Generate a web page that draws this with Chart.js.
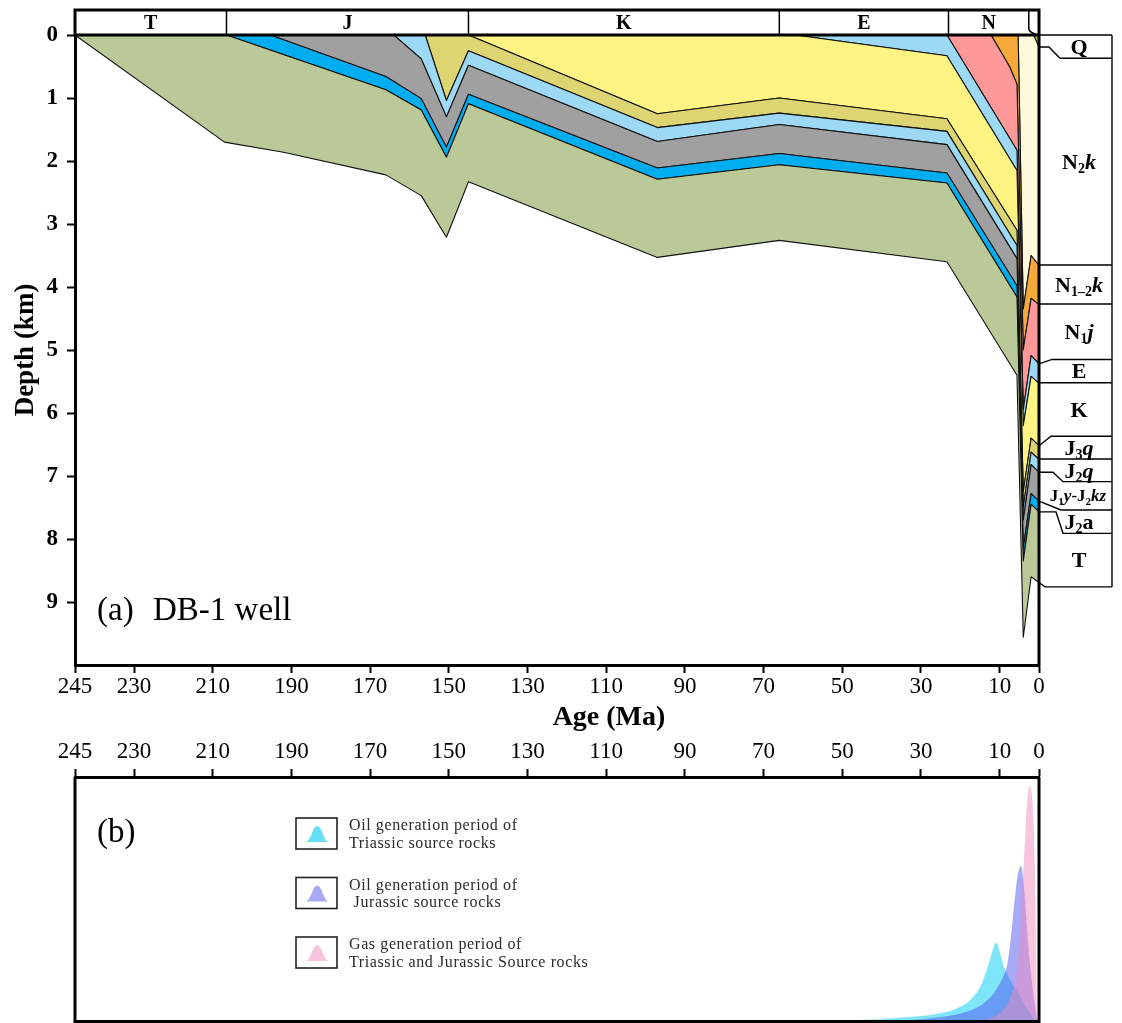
<!DOCTYPE html>
<html>
<head>
<meta charset="utf-8">
<script src="https://cdn.jsdelivr.net/npm/chart.js@4.4.0/dist/chart.umd.min.js"></script>
<style>
  html, body { margin: 0; padding: 0; background: #fff; }
  #wrap { position: relative; width: 1122px; height: 1023px; overflow: hidden; background: #fff; }
  #burial { position: absolute; left: 0; top: 0; }
  #gen { position: absolute; left: 0; top: 730px; }
</style>
</head>
<body>
<div id="wrap">
  <canvas id="burial" width="1122" height="745"></canvas>
  <canvas id="gen" width="1122" height="293"></canvas>
</div>
<script>
const FONT = "'Liberation Serif', 'Times New Roman', serif";

// ---- axes ----
const AGE_TICKS = [245, 230, 210, 190, 170, 150, 130, 110, 90, 70, 50, 30, 10, 0];
const DEPTH_TICKS = [0, 1, 2, 3, 4, 5, 6, 7, 8, 9];

// ---- geological periods shown in the bar above the burial plot ----
const PERIOD_NAMES = ['T', 'J', 'K', 'E', 'N'];
const PERIOD_BOUNDS = [245, 206.5, 145, 66, 23, 2.6];

// ---- burial paths of stratigraphic surfaces (age in Ma, depth in km) ----
const T_BASE_AGE     = [245, 207, 192, 166, 157, 150.6, 145, 97, 66, 23.4, 5.6, 4.0, 2.0, 0];
const T_BASE_DEPTH   = [0, 1.70, 1.86, 2.22, 2.55, 3.21, 2.33, 3.53, 3.26, 3.60, 5.40, 9.56, 8.60, 8.69];

const T_TOP_AGE      = [245, 206.5, 166, 157, 150.6, 145, 97, 66, 23.4, 5.6, 4.0, 2.0, 0];
const T_TOP_DEPTH    = [0, 0, 0.87, 1.19, 1.94, 1.09, 2.29, 2.06, 2.35, 4.16, 8.35, 7.45, 7.57];

const J2A_TOP_AGE    = [245, 195.4, 166, 157, 150.6, 145, 97, 66, 23.4, 5.6, 4.0, 2.0, 0];
const J2A_TOP_DEPTH  = [0, 0, 0.66, 1.01, 1.78, 0.94, 2.11, 1.88, 2.19, 3.98, 8.15, 7.28, 7.40];

const J1Y_TOP_AGE    = [245, 164, 157, 150.6, 145, 97, 66, 23.4, 5.6, 4.0, 2.0, 0];
const J1Y_TOP_DEPTH  = [0, 0, 0.38, 1.30, 0.48, 1.69, 1.42, 1.74, 3.55, 7.70, 6.82, 6.94];

const J2Q_TOP_AGE    = [245, 156, 150.6, 145, 97, 66, 23.4, 5.6, 4.0, 2.0, 0];
const J2Q_TOP_DEPTH  = [0, 0, 1.04, 0.25, 1.47, 1.24, 1.53, 3.34, 7.50, 6.62, 6.74];

const J3Q_TOP_AGE    = [245, 145, 97, 66, 23.4, 5.6, 4.0, 2.0, 0];
const J3Q_TOP_DEPTH  = [0, 0, 1.25, 1.00, 1.33, 3.10, 7.25, 6.40, 6.52];

const K_TOP_AGE      = [245, 62, 23.4, 5.6, 4.0, 2.0, 0];
const K_TOP_DEPTH    = [0, 0, 0.33, 2.15, 6.20, 5.42, 5.53];

const E_TOP_AGE      = [245, 23.4, 5.6, 4.0, 2.0, 0];
const E_TOP_DEPTH    = [0, 0, 1.83, 5.95, 5.09, 5.22];

const N1J_TOP_AGE    = [245, 12.2, 7.5, 5.6, 4.0, 2.0, 0];
const N1J_TOP_DEPTH  = [0, 0, 0.50, 0.78, 5.00, 4.18, 4.28];

const N12K_TOP_AGE   = [245, 5.3, 4.0, 2.0, 0];
const N12K_TOP_DEPTH = [0, 0, 4.35, 3.50, 3.66];

const N2K_TOP_AGE    = [245, 1.4, 0];
const N2K_TOP_DEPTH  = [0, 0, 0.19];

const SURFACE_AGE    = [245, 0];
const SURFACE_DEPTH  = [0, 0];

// ---- hydrocarbon generation intensity (relative, 0-100) ----
const TRIASSIC_OIL_AGE = [55, 48, 40, 33, 28, 25, 22, 20, 18, 16.7, 15.2, 14.2, 13.3, 12.6, 12, 11.4, 10.9, 10.4, 9.9, 9.3, 8.9, 8.3, 7.8, 6.8, 5.8, 4.8, 3.5, 2.3, 1.2, 0.4];
const TRIASSIC_OIL_VAL = [0, 0.4, 1.0, 1.8, 2.6, 3.4, 4.6, 6.1, 8.0, 10.2, 13.5, 17, 21, 24.5, 27.9, 31, 32.2, 31, 27.9, 24.5, 22.4, 20, 18.4, 15.5, 13, 10.2, 6.5, 3.4, 1.0, 0];

const JURASSIC_OIL_AGE = [40, 32, 25, 20, 16, 13.3, 11.5, 9.9, 8.9, 8.2, 7.4, 6.7, 6.1, 5.5, 5.0, 4.65, 4.3, 4.0, 3.6, 3.3, 3.0, 2.7, 2.3, 1.85, 1.4, 1.0, 0.6, 0.3];
const JURASSIC_OIL_VAL = [0, 0.6, 1.8, 3.3, 5.5, 8.5, 11.5, 15.7, 19, 22.4, 30.6, 41.5, 51, 59, 62.5, 63.6, 62, 57.9, 51, 44.2, 37, 30.6, 23.5, 17, 11, 6.1, 2.0, 0];

const GAS_AGE = [16, 12, 9, 7, 5.5, 4.8, 4.3, 3.9, 3.5, 3.1, 2.7, 2.3, 2.0, 1.7, 1.45, 1.2, 1.0, 0.85, 0.75, 0.65, 0.55, 0.45];
const GAS_VAL = [0, 1.5, 5, 11, 22, 35, 52, 64, 76, 88, 94.5, 96.2, 95, 91, 85, 72, 58, 42, 30, 15, 4, 0];

// ---- units: fill between a lower and an upper surface ----
const UNITS = [
  { name: 'T',         color: '#BBC998', base: [T_BASE_AGE, T_BASE_DEPTH],     top: [T_TOP_AGE, T_TOP_DEPTH] },
  { name: 'J2a',       color: '#00AEEF', base: [T_TOP_AGE, T_TOP_DEPTH],       top: [J2A_TOP_AGE, J2A_TOP_DEPTH] },
  { name: 'J1y-J2kz',  color: '#A0A0A0', base: [J2A_TOP_AGE, J2A_TOP_DEPTH],   top: [J1Y_TOP_AGE, J1Y_TOP_DEPTH] },
  { name: 'J2q',       color: '#9DD9F4', base: [J1Y_TOP_AGE, J1Y_TOP_DEPTH],   top: [J2Q_TOP_AGE, J2Q_TOP_DEPTH] },
  { name: 'J3q',       color: '#DDD572', base: [J2Q_TOP_AGE, J2Q_TOP_DEPTH],   top: [J3Q_TOP_AGE, J3Q_TOP_DEPTH] },
  { name: 'K',         color: '#FFF383', base: [J3Q_TOP_AGE, J3Q_TOP_DEPTH],   top: [K_TOP_AGE, K_TOP_DEPTH] },
  { name: 'E',         color: '#9DD9F4', base: [K_TOP_AGE, K_TOP_DEPTH],       top: [E_TOP_AGE, E_TOP_DEPTH] },
  { name: 'N1j',       color: '#FF9898', base: [E_TOP_AGE, E_TOP_DEPTH],       top: [N1J_TOP_AGE, N1J_TOP_DEPTH] },
  { name: 'N1-2k',     color: '#F5A93B', base: [N1J_TOP_AGE, N1J_TOP_DEPTH],   top: [N12K_TOP_AGE, N12K_TOP_DEPTH] },
  { name: 'N2k',       color: '#FFFADC', base: [N12K_TOP_AGE, N12K_TOP_DEPTH], top: [N2K_TOP_AGE, N2K_TOP_DEPTH] },
  { name: 'Q',         color: '#A9C63C', base: [N2K_TOP_AGE, N2K_TOP_DEPTH],   top: [SURFACE_AGE, SURFACE_DEPTH] }
];

// closed outline: along the lower surface, then back along the upper one
function unitOutline(unit) {
  const [ba, bd] = unit.base, [ta, td] = unit.top;
  const pts = ba.map((a, i) => ({ x: a, y: bd[i] }));
  for (let i = ta.length - 1; i >= 0; i--) pts.push({ x: ta[i], y: td[i] });
  return pts;
}
function series(ages, vals) { return ages.map((a, i) => ({ x: a, y: vals[i] })); }

// ---- text helper with subscripts / italics ----
function drawRich(ctx, parts, cx, cy, size) {
  const items = parts.map(([t, s]) => {
    let f;
    if (s === 's') f = `bold ${Math.round(size * 0.62)}px ${FONT}`;
    else if (s === 'i') f = `italic bold ${size}px ${FONT}`;
    else f = `bold ${size}px ${FONT}`;
    ctx.font = f;
    return { t, s, f, w: ctx.measureText(t).width };
  });
  const total = items.reduce((a, b) => a + b.w, 0);
  let x = cx - total / 2;
  const base = cy + size * 0.33;
  ctx.textAlign = 'left';
  ctx.textBaseline = 'alphabetic';
  ctx.fillStyle = '#000';
  for (const it of items) {
    ctx.font = it.f;
    ctx.fillText(it.t, x, it.s === 's' ? base + size * 0.2 : base);
    x += it.w;
  }
}

// ---- decorations of the burial plot: period bar, frame, unit column ----
const burialDecor = {
  id: 'burialDecor',
  afterDraw(chart) {
    const { ctx, chartArea: ca, scales } = chart;
    const xs = scales.x, ys = scales.y;
    const L = ca.left, R = ca.right, T0 = ca.top, B = ca.bottom;
    const HT = T0 - 25;
    ctx.save();
    ctx.strokeStyle = '#000';
    ctx.lineCap = 'butt';

    // frame and period bar
    ctx.lineWidth = 3;
    ctx.beginPath();
    ctx.moveTo(L - 1.5, HT); ctx.lineTo(R + 1.5, HT);
    ctx.moveTo(L, HT); ctx.lineTo(L, T0);
    ctx.moveTo(R, HT); ctx.lineTo(R, B + 1.5);
    ctx.moveTo(L, T0); ctx.lineTo(R, T0);
    ctx.stroke();

    ctx.lineWidth = 1.5;
    ctx.beginPath();
    for (let i = 1; i < PERIOD_BOUNDS.length - 1; i++) {
      const px = xs.getPixelForValue(PERIOD_BOUNDS[i]);
      ctx.moveTo(px, HT); ctx.lineTo(px, T0);
    }
    const qx = xs.getPixelForValue(PERIOD_BOUNDS[PERIOD_BOUNDS.length - 1]);
    ctx.moveTo(qx, HT); ctx.lineTo(qx, HT + 18);
    ctx.quadraticCurveTo(qx, HT + 21, qx + 3, HT + 22.5);
    ctx.lineTo(R - 2, T0);
    ctx.stroke();

    ctx.fillStyle = '#000';
    ctx.font = `bold 20px ${FONT}`;
    ctx.textAlign = 'center';
    ctx.textBaseline = 'middle';
    for (let i = 0; i < PERIOD_NAMES.length; i++) {
      const a = xs.getPixelForValue(PERIOD_BOUNDS[i]);
      const b = xs.getPixelForValue(PERIOD_BOUNDS[i + 1]);
      ctx.fillText(PERIOD_NAMES[i], (a + b) / 2, (HT + T0) / 2 + 1);
    }

    // unit column on the right
    const BX = 1112;
    const col = R;
    const yp = d => ys.getPixelForValue(d);
    ctx.lineWidth = 1.4;
    ctx.beginPath();
    ctx.moveTo(R, T0); ctx.lineTo(BX, T0);
    // [depth at column, depth of box line, flat run, start of box line]
    const links = [
      [N2K_TOP_DEPTH[N2K_TOP_DEPTH.length - 1], 0.37, 10, 21],
      [N12K_TOP_DEPTH[N12K_TOP_DEPTH.length - 1], 3.65, 0, 1],
      [N1J_TOP_DEPTH[N1J_TOP_DEPTH.length - 1], 4.27, 0, 1],
      [E_TOP_DEPTH[E_TOP_DEPTH.length - 1], 5.15, 0, 13],
      [K_TOP_DEPTH[K_TOP_DEPTH.length - 1], 5.52, 0, 1],
      [J3Q_TOP_DEPTH[J3Q_TOP_DEPTH.length - 1], 6.37, 0, 12],
      [J2Q_TOP_DEPTH[J2Q_TOP_DEPTH.length - 1], 6.73, 0, 1],
      [J1Y_TOP_DEPTH[J1Y_TOP_DEPTH.length - 1], 7.09, 14, 24],
      [J2A_TOP_DEPTH[J2A_TOP_DEPTH.length - 1], 7.54, 0, 22],
      [T_TOP_DEPTH[T_TOP_DEPTH.length - 1], 7.91, 17, 24],
      [T_BASE_DEPTH[T_BASE_DEPTH.length - 1], 8.76, 0, 6]
    ];
    for (const [dc, db, run, st] of links) {
      ctx.moveTo(col, yp(dc));
      if (run > 0) ctx.lineTo(col + run, yp(dc));
      ctx.lineTo(col + st, yp(db));
      ctx.lineTo(BX, yp(db));
    }
    ctx.moveTo(BX, T0); ctx.lineTo(BX, yp(8.76));
    ctx.stroke();

    const cx = 1079;
    const boxes = [0, 0.37, 3.65, 4.27, 5.15, 5.52, 6.37, 6.73, 7.09, 7.54, 7.91, 8.76];
    const labels = [
      [['Q', '']],
      [['N', ''], ['2', 's'], ['k', 'i']],
      [['N', ''], ['1\u20132', 's'], ['k', 'i']],
      [['N', ''], ['1', 's'], ['j', 'i']],
      [['E', '']],
      [['K', '']],
      [['J', ''], ['3', 's'], ['q', 'i']],
      [['J', ''], ['2', 's'], ['q', 'i']],
      [['J', ''], ['1', 's'], ['y', 'i'], ['-J', ''], ['2', 's'], ['kz', 'i']],
      [['J', ''], ['2', 's'], ['a', '']],
      [['T', '']]
    ];
    labels.forEach((parts, i) => {
      const cy = (yp(boxes[i]) + yp(boxes[i + 1])) / 2;
      const size = i === 8 ? 17 : 22;
      drawRich(ctx, parts, i === 8 ? cx - 1 : cx, cy, size);
    });

    // well name
    ctx.fillStyle = '#000';
    ctx.font = `33px ${FONT}`;
    ctx.textAlign = 'left';
    ctx.textBaseline = 'middle';
    ctx.fillText('(a)', L + 22, yp(9.15));
    ctx.fillText('DB-1 well', L + 78, yp(9.15));

    // horizontal axis title
    ctx.font = `bold 28px ${FONT}`;
    ctx.textAlign = 'center';
    ctx.fillText('Age (Ma)', 609, 718);
    ctx.restore();
  }
};

new Chart(document.getElementById('burial'), {
  type: 'scatter',
  data: {
    datasets: UNITS.map(u => ({
      label: u.name,
      data: unitOutline(u),
      showLine: true,
      fill: 'shape',
      backgroundColor: u.color,
      borderColor: '#111',
      borderWidth: 1.1,
      borderJoinStyle: 'round',
      pointRadius: 0,
      pointHoverRadius: 0
    }))
  },
  options: {
    responsive: false,
    animation: false,
    devicePixelRatio: 1,
    events: [],
    layout: { padding: { left: 0, right: 83, top: 35, bottom: 0 } },
    plugins: { legend: { display: false }, tooltip: { enabled: false } },
    scales: {
      x: {
        type: 'linear', position: 'bottom', reverse: true, min: 0, max: 245,
        afterBuildTicks: s => { s.ticks = AGE_TICKS.map(v => ({ value: v })); },
        afterFit: s => { s.height = 80; },
        ticks: { font: { family: FONT, size: 23 }, color: '#000', padding: 0, maxRotation: 0, autoSkip: false },
        grid: { display: true, drawOnChartArea: false, drawTicks: true, tickLength: 8, tickWidth: 2, tickColor: '#000' },
        border: { display: true, color: '#000', width: 3 }
      },
      y: {
        type: 'linear', position: 'left', reverse: true, min: 0, max: 10,
        afterBuildTicks: s => { s.ticks = DEPTH_TICKS.map(v => ({ value: v })); },
        afterFit: s => { s.width = 75; },
        ticks: { font: { family: FONT, size: 23, weight: 'bold' }, color: '#000', padding: 9, autoSkip: false },
        grid: { display: true, drawOnChartArea: false, drawTicks: true, tickLength: 8, tickWidth: 2, tickColor: '#000' },
        border: { display: true, color: '#000', width: 3 },
        title: { display: true, text: 'Depth (km)', color: '#000', font: { family: FONT, size: 27, weight: 'bold' }, padding: { top: 10, bottom: 0 } }
      }
    }
  },
  plugins: [burialDecor]
});

// ---- generation-period panel ----
const GEN_LEGEND = [
  { lines: ['Oil generation period of', 'Triassic source rocks'], color: '#66DFF6' },
  { lines: ['Oil generation period of', ' Jurassic source rocks'], color: '#A9A9F7' },
  { lines: ['Gas generation period of', 'Triassic and Jurassic Source rocks'], color: '#F8C3DD' }
];

const genDecor = {
  id: 'genDecor',
  afterDraw(chart) {
    const { ctx, chartArea: ca } = chart;
    const L = ca.left, R = ca.right, T0 = ca.top, B = ca.bottom;
    ctx.save();
    ctx.strokeStyle = '#000';
    ctx.lineWidth = 3;
    ctx.beginPath();
    ctx.moveTo(L, T0); ctx.lineTo(L, B);
    ctx.moveTo(R, T0); ctx.lineTo(R, B);
    ctx.moveTo(L - 1.5, B); ctx.lineTo(R + 1.5, B);
    ctx.stroke();

    ctx.fillStyle = '#000';
    ctx.font = `33px ${FONT}`;
    ctx.textAlign = 'left';
    ctx.textBaseline = 'middle';
    ctx.fillText('(b)', L + 22, T0 + 56);

    GEN_LEGEND.forEach((item, i) => {
      const top = T0 + 41 + i * 59.5;
      const bx = 296, bw = 41, bh = 31;
      ctx.strokeStyle = '#222';
      ctx.lineWidth = 1.6;
      ctx.strokeRect(bx, top, bw, bh);
      // bell icon
      const x0 = bx + 9.5, x1 = bx + 33, base = top + 24, peak = top + 8;
      const xc = (x0 + x1) / 2;
      ctx.fillStyle = item.color;
      ctx.beginPath();
      ctx.moveTo(x0, base);
      ctx.bezierCurveTo(x0 + 6, base - 1, xc - 5, peak, xc, peak);
      ctx.bezierCurveTo(xc + 5, peak, x1 - 6, base - 1, x1, base);
      ctx.closePath();
      ctx.fill();
      // text
      ctx.fillStyle = '#2a2a2a';
      ctx.font = `16px ${FONT}`;
      ctx.letterSpacing = '0.6px';
      ctx.textBaseline = 'middle';
      ctx.fillText(item.lines[0], 349, top + 8);
      ctx.fillText(item.lines[1], 349, top + 25.5);
      ctx.letterSpacing = '0px';
    });
    ctx.restore();
  }
};

new Chart(document.getElementById('gen'), {
  type: 'scatter',
  data: {
    datasets: [
      { label: 'Gas generation period of Triassic and Jurassic Source rocks', data: series(GAS_AGE, GAS_VAL), backgroundColor: 'rgba(240,140,190,0.5)' },
      { label: 'Oil generation period of Jurassic source rocks', data: series(JURASSIC_OIL_AGE, JURASSIC_OIL_VAL), backgroundColor: 'rgba(82,84,240,0.5)' },
      { label: 'Oil generation period of Triassic source rocks', data: series(TRIASSIC_OIL_AGE, TRIASSIC_OIL_VAL), backgroundColor: 'rgba(0,206,246,0.5)' }
    ].map(d => Object.assign(d, {
      showLine: true, fill: 'origin', borderWidth: 0, borderColor: 'rgba(0,0,0,0)',
      cubicInterpolationMode: 'monotone', pointRadius: 0, pointHoverRadius: 0
    }))
  },
  options: {
    responsive: false,
    animation: false,
    devicePixelRatio: 1,
    events: [],
    layout: { padding: { left: 75, right: 83, top: 0, bottom: 1.5 } },
    plugins: { legend: { display: false }, tooltip: { enabled: false } },
    scales: {
      x: {
        type: 'linear', position: 'top', reverse: true, min: 0, max: 245,
        afterBuildTicks: s => { s.ticks = AGE_TICKS.map(v => ({ value: v })); },
        afterFit: s => { s.height = 47; },
        ticks: { font: { family: FONT, size: 23 }, color: '#000', padding: 3, maxRotation: 0, autoSkip: false },
        grid: { display: true, drawOnChartArea: false, drawTicks: true, tickLength: 8, tickWidth: 2, tickColor: '#000' },
        border: { display: true, color: '#000', width: 3 }
      },
      y: { display: false, min: 0, max: 100 }
    }
  },
  plugins: [genDecor]
});
</script>
</body>
</html>
